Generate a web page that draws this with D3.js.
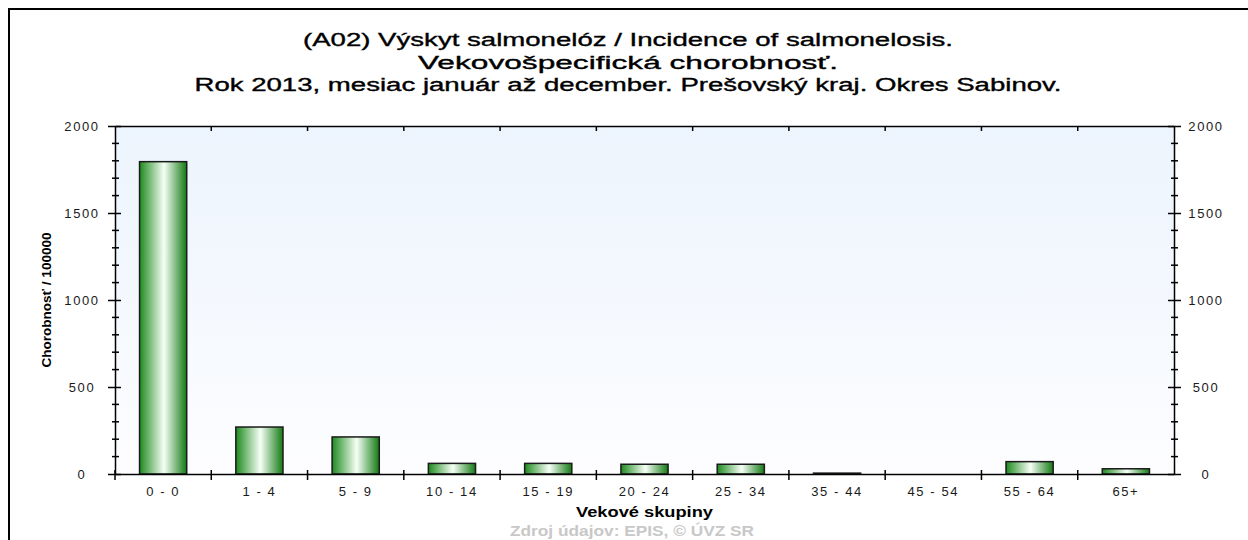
<!DOCTYPE html>
<html>
<head>
<meta charset="utf-8">
<script src="https://cdn.jsdelivr.net/npm/d3@7"></script>
<style>
  body { margin: 0; background: #fff; }
  svg { display: block; font-family: 'Liberation Sans', Arial, sans-serif; }
</style>
</head>
<body>
<svg id="chart" width="1248" height="540"></svg>
<script>
const categories = ['0 - 0', '1 - 4', '5 - 9', '10 - 14', '15 - 19', '20 - 24', '25 - 34', '35 - 44', '45 - 54', '55 - 64', '65+']
const values = [1795, 270, 213, 61, 61, 56, 56, 5, 0, 71, 30]
const yTicks = [0, 500, 1000, 1500, 2000]
const titleLines = [
  '(A02) Výskyt salmonelóz / Incidence of salmonelosis.',
  'Vekovošpecifická chorobnosť.',
  'Rok 2013, mesiac január až december. Prešovský kraj. Okres Sabinov.',
]
const xTitle = 'Vekové skupiny'
const yTitle = 'Chorobnosť / 100000'
const source = 'Zdroj údajov: EPIS, © ÚVZ SR'

const margin = { left: 115, right: 74, top: 126, bottom: 66 }
const width = 1248
const height = 540
const svg = d3.select('#chart')
const defs = svg.append('defs')

const bg = defs.append('linearGradient').attr('id', 'bg')
  .attr('x1', 0).attr('y1', 0).attr('x2', 0).attr('y2', 1)
bg.append('stop').attr('offset', '0%').attr('stop-color', '#ecf4fd')
bg.append('stop').attr('offset', '100%').attr('stop-color', '#fdfdff')

const barGrad = defs.append('linearGradient').attr('id', 'bar')
  .attr('x1', 0).attr('y1', 0).attr('x2', 1).attr('y2', 0)
barGrad.append('stop').attr('offset', '0%').attr('stop-color', '#1e8a1e')
barGrad.append('stop').attr('offset', '52%').attr('stop-color', '#f6fff6')
barGrad.append('stop').attr('offset', '100%').attr('stop-color', '#137a13')

// frame
svg.append('line').attr('x1', 9).attr('x2', 9).attr('y1', 8).attr('y2', height)
  .attr('stroke', '#000').attr('stroke-width', 2)
svg.append('line').attr('x1', 8).attr('x2', width).attr('y1', 9).attr('y2', 9)
  .attr('stroke', '#000').attr('stroke-width', 2)

const x = d3.scaleBand().domain(categories)
  .range([margin.left, width - margin.right])
const y = d3.scaleLinear().domain([0, 2000])
  .range([height - margin.bottom, margin.top])

const x0 = margin.left, x1 = width - margin.right
const y0 = height - margin.bottom, y1 = margin.top

svg.append('rect').attr('x', x0).attr('y', y1)
  .attr('width', x1 - x0).attr('height', y0 - y1).attr('fill', 'url(#bg)')

// titles
const titleW = [650, 420, 867]
svg.append('g').selectAll('text').data(titleLines).join('text')
  .attr('x', 628).attr('y', (d, i) => 46 + i * 22.5)
  .attr('text-anchor', 'middle')
  .attr('font-size', 18)
  .attr('stroke', '#000').attr('stroke-width', 0.35)
  .attr('textLength', (d, i) => titleW[i]).attr('lengthAdjust', 'spacingAndGlyphs')
  .attr('fill', '#000').text((d) => d)

// bars
const bw = x.bandwidth() * 0.49
svg.append('g').selectAll('rect').data(values).join('rect')
  .attr('x', (d, i) => x(categories[i]) + (x.bandwidth() - bw) / 2)
  .attr('y', (d) => y(d))
  .attr('width', bw)
  .attr('height', (d) => y(0) - y(d))
  .attr('fill', 'url(#bar)')
  .attr('stroke', (d) => (d > 0 ? '#1b1b1b' : 'none'))
  .attr('stroke-width', 1.5)

// axes
const minor = d3.range(0, 2001, 100)
const axisStyle = (g) => {
  g.select('.domain').attr('stroke', '#000').attr('stroke-width', 1.5)
  g.selectAll('.tick line').attr('stroke', '#000').attr('stroke-width', 1.5)
  g.selectAll('.tick text').attr('font-size', 13).attr('fill', '#1a1a1a')
    .attr('letter-spacing', 1.6)
    .attr('font-family', "'Liberation Sans', Arial, sans-serif")
}

// y labels are centred in their gutter, as in the original
const leftAxis = svg.append('g').attr('transform', `translate(${x0},0)`)
  .call(d3.axisLeft(y).tickValues(yTicks).tickSize(7).tickSizeOuter(0).tickFormat(d3.format('d')))
  .call(axisStyle)
leftAxis.selectAll('.tick line').attr('x2', -7).attr('x1', 6)
leftAxis.selectAll('.tick text').attr('x', -33).attr('text-anchor', 'middle')
leftAxis.selectAll('line.minor').data(minor.filter((v) => !yTicks.includes(v))).join('line')
  .attr('class', 'minor').attr('x1', -3).attr('x2', 4)
  .attr('y1', (d) => y(d)).attr('y2', (d) => y(d)).attr('stroke', '#000').attr('stroke-width', 1.5)

const rightAxis = svg.append('g').attr('transform', `translate(${x1},0)`)
  .call(d3.axisRight(y).tickValues(yTicks).tickSize(7).tickSizeOuter(0).tickFormat(d3.format('d')))
  .call(axisStyle)
rightAxis.selectAll('.tick line').attr('x1', -6).attr('x2', 7)
rightAxis.selectAll('.tick text').attr('x', 32).attr('text-anchor', 'middle')
rightAxis.selectAll('line.minor').data(minor.filter((v) => !yTicks.includes(v))).join('line')
  .attr('class', 'minor').attr('x1', -3).attr('x2', 4)
  .attr('y1', (d) => y(d)).attr('y2', (d) => y(d)).attr('stroke', '#000').attr('stroke-width', 1.5)

const boundaries = categories.slice(1).map((c) => x(c))
const bottomAxis = svg.append('g').attr('transform', `translate(0,${y0})`)
  .call(d3.axisBottom(x).tickSize(0).tickPadding(13))
  .call(axisStyle)
bottomAxis.selectAll('line.bnd').data([x0].concat(boundaries)).join('line')
  .attr('class', 'bnd').attr('x1', (d) => d).attr('x2', (d) => d)
  .attr('y1', -4).attr('y2', 6).attr('stroke', '#000').attr('stroke-width', 1.5)

const topAxis = svg.append('g').attr('transform', `translate(0,${y1})`)
  .call(d3.axisTop(x).tickSize(0).tickFormat(''))
  .call(axisStyle)
topAxis.selectAll('line.bnd').data(boundaries).join('line')
  .attr('class', 'bnd').attr('x1', (d) => d).attr('x2', (d) => d)
  .attr('y1', 0).attr('y2', 5).attr('stroke', '#000').attr('stroke-width', 1.5)

// axis titles
svg.append('text').attr('x', (x0 + x1) / 2).attr('y', 517)
  .attr('text-anchor', 'middle').attr('font-size', 14).attr('font-weight', 'bold')
  .attr('textLength', 137).attr('lengthAdjust', 'spacingAndGlyphs')
  .text(xTitle)
svg.append('text')
  .attr('transform', `translate(51,${(y0 + y1) / 2}) rotate(-90)`)
  .attr('text-anchor', 'middle').attr('font-size', 12).attr('font-weight', 'bold')
  .attr('textLength', 135).attr('lengthAdjust', 'spacingAndGlyphs')
  .text(yTitle)
svg.append('text').attr('x', 632).attr('y', 536)
  .attr('text-anchor', 'middle').attr('font-size', 14).attr('font-weight', 'bold')
  .attr('textLength', 244).attr('lengthAdjust', 'spacingAndGlyphs')
  .attr('fill', '#c8c8c8').text(source)
</script>
</body>
</html>
